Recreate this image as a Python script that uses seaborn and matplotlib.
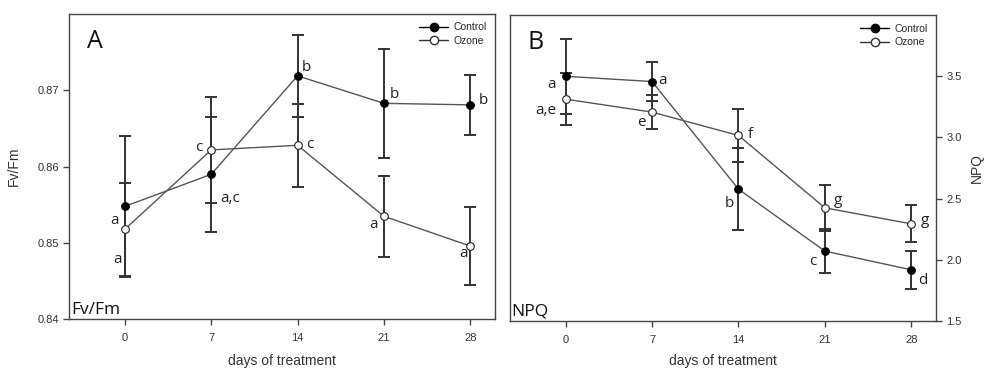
import matplotlib
matplotlib.use("Agg")
import matplotlib.pyplot as plt
import seaborn as sns
import numpy as np
from matplotlib.lines import Line2D

days = [0, 7, 14, 21, 28]

# Panel A: Fv/Fm
fv_control = [0.8548, 0.8590, 0.8719, 0.8683, 0.8681]
fv_control_err = [0.0092, 0.0075, 0.0054, 0.0071, 0.0039]
fv_ozone = [0.8518, 0.8622, 0.8628, 0.8535, 0.8496]
fv_ozone_err = [0.0061, 0.0069, 0.0054, 0.0053, 0.0051]
fv_control_letters = ["a", "a,c", "b", "b", "b"]
fv_ozone_letters = ["a", "c", "c", "a", "a"]

# Panel B: NPQ
npq_control = [3.50, 3.457, 2.577, 2.070, 1.917]
npq_control_err = [0.306, 0.160, 0.335, 0.180, 0.157]
npq_ozone = [3.313, 3.207, 3.016, 2.424, 2.293]
npq_ozone_err = [0.215, 0.140, 0.218, 0.190, 0.151]
npq_control_letters = ["a", "a", "b", "c", "d"]
npq_ozone_letters = ["a,e", "e", "f", "g", "g"]

# label offsets (pixels) relative to points
fv_c_off = [(-10, -14), (19, -24), (9, 8), (10, 9), (13, 4)]
fv_o_off = [(-7, -30), (-12, 2), (12, 1), (-10, -8), (-7, -7)]
npq_c_off = [(-14, -8), (10, 1), (-9, -14), (-12, -10), (11, -11)]
npq_o_off = [(-20, -11), (-11, -10), (12, 1), (13, 7), (14, 3)]

sns.set_style("ticks")
plt.rcParams["font.family"] = ["Liberation Sans", "DejaVu Sans"]

fig = plt.figure(figsize=(9.88, 3.70), dpi=100)
axA = fig.add_axes([0.0702, 0.137, 0.4308, 0.825])
axB = fig.add_axes([0.5162, 0.133, 0.4312, 0.826])

line_col = "#555555"
err_col = "#333333"
spine_col = "#444444"
ann_font = "Open Sans"


def draw(ax, ctrl, ctrl_err, oz, oz_err, c_letters, o_letters, c_off, o_off, xpad):
    ax.errorbar(days, ctrl, yerr=ctrl_err, fmt="none", ecolor=err_col,
                elinewidth=1.4, capsize=4.3, capthick=1.4, zorder=3)
    ax.errorbar(days, oz, yerr=oz_err, fmt="none", ecolor=err_col,
                elinewidth=1.4, capsize=4.3, capthick=1.4, zorder=3)
    sns.lineplot(x=days, y=ctrl, ax=ax, color=line_col, linewidth=1.0,
                 marker="o", markersize=5.5, markerfacecolor="black",
                 markeredgecolor="black", markeredgewidth=0.8, zorder=4)
    sns.lineplot(x=days, y=oz, ax=ax, color=line_col, linewidth=1.0,
                 marker="o", markersize=5.5, markerfacecolor="white",
                 markeredgecolor="#222222", markeredgewidth=0.8, zorder=4)
    for d, v, t, o in zip(days, ctrl, c_letters, c_off):
        ax.annotate(t, (d, v), xytext=o, textcoords="offset pixels",
                    ha="center", va="center", fontsize=11,
                    family=ann_font, color="#222222", zorder=5)
    for d, v, t, o in zip(days, oz, o_letters, o_off):
        ax.annotate(t, (d, v), xytext=o, textcoords="offset pixels",
                    ha="center", va="center", fontsize=11,
                    family=ann_font, color="#222222", zorder=5)
    ax.set_xlim(-4.5, 30)
    ax.set_xticks(days)
    ax.set_xticklabels([str(d) for d in days])
    for s in ax.spines.values():
        s.set_color(spine_col)
        s.set_linewidth(1.0)
    ax.tick_params(axis="both", colors=spine_col, labelcolor="#333333",
                   labelsize=8, length=4, width=1.0, direction="out")
    ax.tick_params(axis="x", pad=6)
    ax.set_xlabel("days of treatment", fontsize=10, color="#333333", labelpad=xpad)
    handles = [
        Line2D([], [], color="black", linewidth=1.0, marker="o", markersize=6,
               markerfacecolor="black", markeredgecolor="black"),
        Line2D([], [], color="#333333", linewidth=1.0, marker="o", markersize=6,
               markerfacecolor="white", markeredgecolor="#333333"),
    ]
    ax.legend(handles, ["Control", "Ozone"], loc="upper right", frameon=False,
              fontsize=7.5, handlelength=2.8, handletextpad=0.5,
              labelspacing=0.35, borderaxespad=0.4)


draw(axA, fv_control, fv_control_err, fv_ozone, fv_ozone_err,
     fv_control_letters, fv_ozone_letters, fv_c_off, fv_o_off, 8)
axA.set_ylim(0.84, 0.88)
axA.set_yticks([0.84, 0.85, 0.86, 0.87])
axA.set_yticklabels(["0.84", "0.85", "0.86", "0.87"])
axA.set_ylabel("Fv/Fm", fontsize=10, color="#333333", labelpad=12)
axA.text(0.06, 0.91, "A", transform=axA.transAxes, fontsize=18,
         family=ann_font, ha="center", va="center", color="#111111")
axA.text(0.004, 0.03, "Fv/Fm", transform=axA.transAxes, fontsize=12.5,
         family=ann_font, ha="left", va="center", color="#111111")

draw(axB, npq_control, npq_control_err, npq_ozone, npq_ozone_err,
     npq_control_letters, npq_ozone_letters, npq_c_off, npq_o_off, 6.5)
axB.set_ylim(1.5, 4.0)
axB.set_yticks([1.5, 2.0, 2.5, 3.0, 3.5])
axB.set_yticklabels(["1.5", "2.0", "2.5", "3.0", "3.5"])
axB.yaxis.tick_right()
axB.yaxis.set_label_position("right")
axB.set_ylabel("NPQ", fontsize=10, color="#333333", labelpad=6)
axB.text(0.06, 0.91, "B", transform=axB.transAxes, fontsize=18,
         family=ann_font, ha="center", va="center", color="#111111")
axB.text(0.004, 0.03, "NPQ", transform=axB.transAxes, fontsize=12.5,
         family=ann_font, ha="left", va="center", color="#111111")

fig.savefig("out.png", dpi=100)
